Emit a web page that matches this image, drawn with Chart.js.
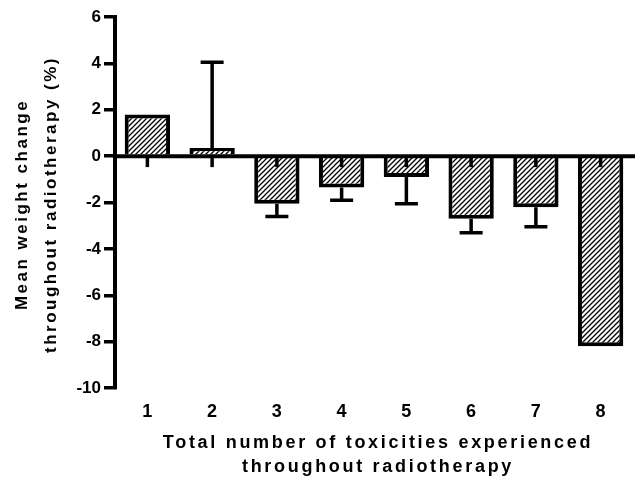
<!DOCTYPE html>
<html>
<head>
<meta charset="utf-8">
<script src="https://cdn.jsdelivr.net/npm/chart.js@4/dist/chart.umd.min.js"></script>
<style>
  html, body { margin: 0; padding: 0; background: #fff; }
  #wrap { width: 635px; height: 478px; }
</style>
</head>
<body>
<div id="wrap"><canvas id="Chart" width="635" height="478"></canvas></div>
<script>
// values
let categories = ['1', '2', '3', '4', '5', '6', '7', '8'];
let means = [1.8, 0.35, -2.05, -1.35, -0.9, -2.7, -2.2, -8.2];
let errors = [0, 3.7, 0.55, 0.55, 1.15, 0.6, 0.85, 0];
let yTicks = [6, 4, 2, 0, -2, -4, -6, -8, -10];
let xTitle = ['Total number of toxicities experienced', 'throughout radiotherapy'];
let yTitle = ['Mean weight change', 'throughout radiotherapy (%)'];

let font = 'Liberation Sans, Arial, Helvetica, sans-serif';

function hatch() {
    let c = document.createElement('canvas');
    c.width = 5;
    c.height = 5;
    let g = c.getContext('2d');
    g.fillStyle = '#fff';
    g.fillRect(0, 0, 5, 5);
    g.strokeStyle = '#000';
    g.lineWidth = 1.3;
    g.beginPath();
    g.moveTo(0, 5); g.lineTo(5, 0);
    g.moveTo(-1, 1); g.lineTo(1, -1);
    g.moveTo(4, 6); g.lineTo(6, 4);
    g.stroke();
    return g.createPattern(c, 'repeat');
}

// zero line, category ticks, one-sided error bars and the spaced-out titles
let extras = {
    id: 'extras',
    afterDatasetsDraw(chart) {
        let ctx = chart.ctx;
        let x = chart.scales.x;
        let y = chart.scales.y;
        let y0 = y.getPixelForValue(0);
        ctx.save();
        ctx.strokeStyle = '#000';
        ctx.lineCap = 'butt';
        ctx.lineWidth = 3.5;

        means.forEach(function (m, i) {
            if (!errors[i]) return;
            let px = x.getPixelForValue(i);
            let end = m + (m >= 0 ? errors[i] : -errors[i]);
            let pm = y.getPixelForValue(m);
            let pe = y.getPixelForValue(end);
            ctx.beginPath();
            ctx.moveTo(px, pm);
            ctx.lineTo(px, pe);
            ctx.moveTo(px - 11.5, pe);
            ctx.lineTo(px + 11.5, pe);
            ctx.stroke();
        });

        ctx.lineWidth = 4;
        ctx.beginPath();
        ctx.moveTo(chart.chartArea.left, y0);
        ctx.lineTo(chart.chartArea.right + 2, y0);
        ctx.stroke();

        ctx.lineWidth = 3.5;
        categories.forEach(function (c, i) {
            let px = x.getPixelForValue(i);
            ctx.beginPath();
            ctx.moveTo(px, y0);
            ctx.lineTo(px, y0 + 11);
            ctx.stroke();
        });
        ctx.restore();
    },
    afterDraw(chart) {
        let ctx = chart.ctx;
        let area = chart.chartArea;
        ctx.save();
        ctx.fillStyle = '#000';
        ctx.textAlign = 'center';
        ctx.textBaseline = 'alphabetic';

        ctx.font = 'bold 18px ' + font;
        ctx.letterSpacing = '2.7px';
        let cx = (area.left + area.right) / 2 + 4;
        ctx.fillText(xTitle[0], cx, 448);
        ctx.fillText(xTitle[1], cx, 472);

        ctx.font = 'bold 17px ' + font;
        ctx.letterSpacing = '2.5px';
        let cy = (area.top + area.bottom) / 2 + 2;
        [27, 56].forEach(function (bx, i) {
            ctx.save();
            ctx.translate(bx, cy);
            ctx.rotate(-Math.PI / 2);
            ctx.fillText(yTitle[i], 0, 0);
            ctx.restore();
        });
        ctx.restore();
    }
};

window.onload = function () {
    let ctx = document.getElementById('Chart').getContext('2d');
    window.myChart = new Chart(ctx, {
        type: 'bar',
        data: {
            labels: categories,
            datasets: [{
                data: means,
                backgroundColor: hatch(),
                borderColor: '#000',
                borderWidth: 4,
                borderSkipped: 'start',
                barPercentage: 0.7,
                categoryPercentage: 1.0
            }]
        },
        options: {
            responsive: false,
            animation: false,
            devicePixelRatio: 1,
            layout: { padding: { top: 17, right: 2, left: 0, bottom: 0 } },
            plugins: {
                legend: { display: false },
                tooltip: { enabled: false }
            },
            scales: {
                x: {
                    grid: { display: false },
                    border: { display: false },
                    ticks: {
                        color: '#000',
                        font: { family: font, size: 18, weight: 'bold' },
                        padding: 5
                    },
                    afterFit: function (scale) { scale.height = 90; }
                },
                y: {
                    min: -10,
                    max: 6,
                    afterBuildTicks: function (scale) {
                        scale.ticks = yTicks.map(function (v) { return { value: v }; });
                    },
                    grid: {
                        drawOnChartArea: false,
                        drawTicks: true,
                        tickLength: 11,
                        lineWidth: 3.5,
                        color: '#000'
                    },
                    border: { display: true, width: 4, color: '#000' },
                    ticks: {
                        color: '#000',
                        font: { family: font, size: 17, weight: 'bold' },
                        padding: 3
                    },
                    afterFit: function (scale) { scale.width = 115; }
                }
            }
        },
        plugins: [extras]
    });
};
</script>
</body>
</html>
